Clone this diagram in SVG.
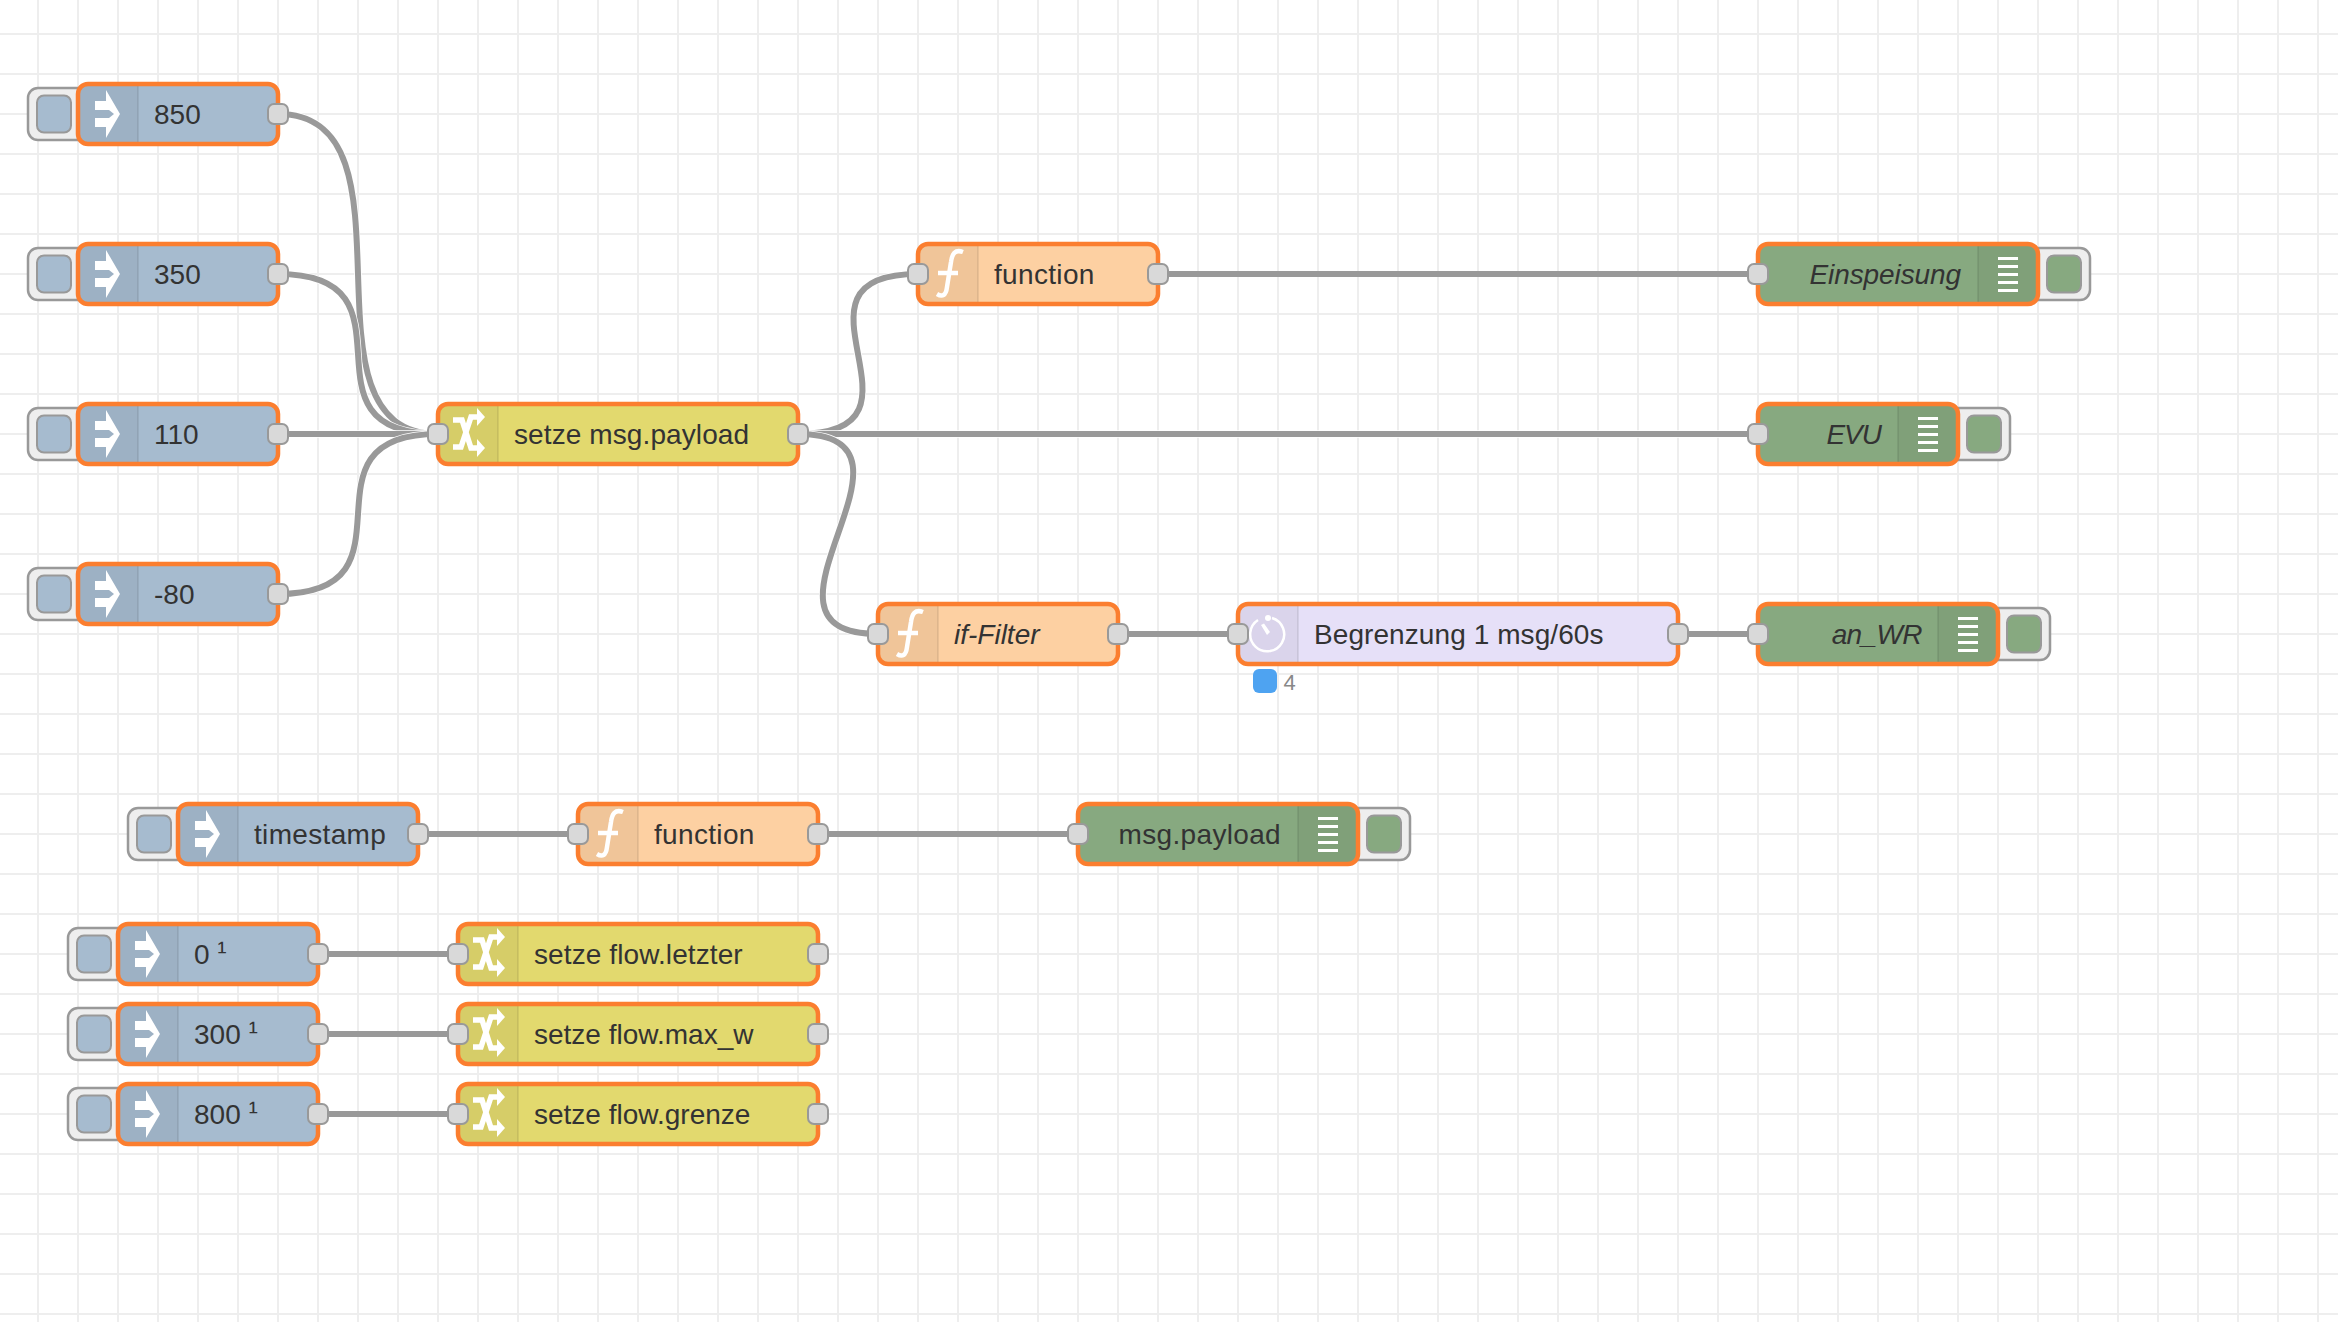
<svg xmlns="http://www.w3.org/2000/svg" xmlns:xlink="http://www.w3.org/1999/xlink" width="2338" height="1322" viewBox="0 0 2338 1322">
<style>
text{font-family:"Liberation Sans",Arial,sans-serif;font-size:28px;fill:#333}
.it{font-style:italic}
.end{text-anchor:end}
.sp{letter-spacing:.33px}
.body{stroke:none}
.border{fill:none;stroke:#fb7e2f;stroke-width:4.500}
.shade{fill:#000;fill-opacity:.05;stroke:none}
.sep{stroke:#000;stroke-opacity:.1;stroke-width:1.500;fill:none}
.port{fill:#d9d9d9;stroke:#999;stroke-width:2}
.btn{fill:#eee;stroke:#999;stroke-width:2.500}
.btni{stroke:#999;stroke-width:2}
.inj{fill:#a6bbcf}.fun{fill:#fdd0a2}.chg{fill:#e2d96e}.dly{fill:#e6e0f8}.dbg{fill:#87a980}
.o{fill:none;stroke:#fff;stroke-width:7.500}
.l{fill:none;stroke:#999;stroke-width:6}
.ic{fill:#fff;stroke:none}
.ics{fill:none;stroke:#fff;stroke-width:4.500}
</style>
<defs>
<pattern id="grid" patternUnits="userSpaceOnUse" x="18" y="14" width="40" height="40">
<path d="M20 0V40M0 20H40" fill="none" stroke="#eee" stroke-width="2"/>
</pattern>
<rect id="p" class="port" x="-10" y="-10" width="20" height="20" rx="6"/>
<polygon id="i-inj" class="ic" points="17,-13 28,-13 28,-24 42,0 28,24 28,13 17,13 17,4 31,4 36,0 31,-4 17,-4"/>
<g id="i-fun"><path class="ics" d="M45 -22C37 -25 34 -20 33 -12L29 13C28 22 24 23 19 20M20 -1H40"/></g>
<g id="i-chg"><path class="ics" style="stroke-width:5.500" d="M15 13H23L33 -17H41M15 -14H24L33 14H41"/><polygon class="ic" points="39,-26 47,-17 39,-8"/><polygon class="ic" points="39,5 47,14 39,23"/></g>
<g id="i-dly"><path class="ics" style="stroke-width:2.500" d="M34 -16A17 17 0 1 1 20 -14"/><circle class="ic" cx="30" cy="-16" r="3"/><polygon class="ic" points="23,-9 26,-10.500 32,-2 29,1"/></g>
<g id="i-dbg" class="ic"><rect x="20" y="-17" width="20" height="3"/><rect x="20" y="-9" width="20" height="3"/><rect x="20" y="-1" width="20" height="3"/><rect x="20" y="7" width="20" height="3"/><rect x="20" y="15" width="20" height="3"/></g>
<path id="s-l" class="shade" d="M60 -30H10A10 10 0 0 0 0 -20V20A10 10 0 0 0 10 30H60Z"/>
<path id="s-r" class="shade" d="M-60 -30H-10A10 10 0 0 1 0 -20V20A10 10 0 0 1 -10 30H-60Z"/>
<g id="b-l"><rect class="btn" x="-50" y="-26" width="60" height="52" rx="10"/></g>
<g id="b-r"><rect class="btn" x="-10" y="-26" width="62" height="52" rx="10"/></g>
</defs>
<rect width="2338" height="1322" fill="#fff"/>
<rect width="2338" height="1322" fill="url(#grid)"/>
<g id="connectors">
<path class="o" d="M278 114C428 114 288 434 438 434"/><path class="l" d="M278 114C428 114 288 434 438 434"/>
<path class="o" d="M278 274C428 274 288 434 438 434"/><path class="l" d="M278 274C428 274 288 434 438 434"/>
<path class="o" d="M278 434H438"/><path class="l" d="M278 434H438"/>
<path class="o" d="M278 594C428 594 288 434 438 434"/><path class="l" d="M278 594C428 594 288 434 438 434"/>
<path class="o" d="M798 434C948 434 768 274 918 274"/><path class="l" d="M798 434C948 434 768 274 918 274"/>
<path class="o" d="M798 434H1758"/><path class="l" d="M798 434H1758"/>
<path class="o" d="M798 434C948 434 728 634 878 634"/><path class="l" d="M798 434C948 434 728 634 878 634"/>
<path class="l" d="M1158 274H1758"/>
<path class="l" d="M1118 634H1238"/>
<path class="l" d="M1678 634H1758"/>
<path class="l" d="M418 834H578"/>
<path class="l" d="M818 834H1078"/>
<path class="l" d="M318 954H458"/>
<path class="l" d="M318 1034H458"/>
<path class="l" d="M318 1114H458"/>
</g>

<g id="inject-850" transform="translate(78 114)"><use href="#b-l"/><rect class="btni inj" x="-41" y="-18.500" width="34" height="37" rx="7"/><rect class="body inj" width="200" height="60" y="-30" rx="10"/><use href="#s-l"/><path class="sep" d="M60 -28V28"/><use href="#i-inj"/><text x="76" y="9.500">850</text><rect class="border" y="-30" width="200" height="60" rx="10"/><use href="#p" x="200"/></g>
<g id="inject-350" transform="translate(78 274)"><use href="#b-l"/><rect class="btni inj" x="-41" y="-18.500" width="34" height="37" rx="7"/><rect class="body inj" width="200" height="60" y="-30" rx="10"/><use href="#s-l"/><path class="sep" d="M60 -28V28"/><use href="#i-inj"/><text x="76" y="9.500">350</text><rect class="border" y="-30" width="200" height="60" rx="10"/><use href="#p" x="200"/></g>
<g id="inject-110" transform="translate(78 434)"><use href="#b-l"/><rect class="btni inj" x="-41" y="-18.500" width="34" height="37" rx="7"/><rect class="body inj" width="200" height="60" y="-30" rx="10"/><use href="#s-l"/><path class="sep" d="M60 -28V28"/><use href="#i-inj"/><text x="76" y="9.500">110</text><rect class="border" y="-30" width="200" height="60" rx="10"/><use href="#p" x="200"/></g>
<g id="inject-m80" transform="translate(78 594)"><use href="#b-l"/><rect class="btni inj" x="-41" y="-18.500" width="34" height="37" rx="7"/><rect class="body inj" width="200" height="60" y="-30" rx="10"/><use href="#s-l"/><path class="sep" d="M60 -28V28"/><use href="#i-inj"/><text x="76" y="9.500">-80</text><rect class="border" y="-30" width="200" height="60" rx="10"/><use href="#p" x="200"/></g>

<g id="change-payload" transform="translate(438 434)"><rect class="body chg" width="360" height="60" y="-30" rx="10"/><use href="#s-l"/><path class="sep" d="M60 -28V28"/><use href="#i-chg"/><text x="76" y="9.500" style="letter-spacing:.1px">setze msg.payload</text><rect class="border" y="-30" width="360" height="60" rx="10"/><use href="#p"/><use href="#p" x="360"/></g>

<g id="function-1" transform="translate(918 274)"><rect class="body fun" width="240" height="60" y="-30" rx="10"/><use href="#s-l"/><path class="sep" d="M60 -28V28"/><use href="#i-fun"/><text class="sp" x="76" y="9.500">function</text><rect class="border" y="-30" width="240" height="60" rx="10"/><use href="#p"/><use href="#p" x="240"/></g>

<g id="function-iffilter" transform="translate(878 634)"><rect class="body fun" width="240" height="60" y="-30" rx="10"/><use href="#s-l"/><path class="sep" d="M60 -28V28"/><use href="#i-fun"/><text class="it" x="76" y="9.500">if-Filter</text><rect class="border" y="-30" width="240" height="60" rx="10"/><use href="#p"/><use href="#p" x="240"/></g>

<g id="delay" transform="translate(1238 634)"><rect class="body dly" width="440" height="60" y="-30" rx="10"/><use href="#s-l"/><path class="sep" d="M60 -28V28"/><use href="#i-dly"/><text x="76" y="9.500" style="letter-spacing:.08px">Begrenzung 1 msg/60s</text><rect class="border" y="-30" width="440" height="60" rx="10"/><use href="#p"/><use href="#p" x="440"/><rect x="15" y="35" width="24" height="24" rx="6" fill="#4ea3f1"/><text x="45.500" y="56" style="font-size:22px;fill:#888">4</text></g>

<g id="debug-einspeisung" transform="translate(2038 274)"><use href="#b-r"/><rect class="btni dbg" x="9" y="-18.500" width="34" height="37" rx="7"/><rect class="body dbg" x="-280" width="280" height="60" y="-30" rx="10"/><use href="#s-r"/><path class="sep" d="M-60 -28V28"/><use href="#i-dbg" x="-60"/><text class="it end" x="-77" y="9.500" style="letter-spacing:-.1px">Einspeisung</text><rect class="border" x="-280" y="-30" width="280" height="60" rx="10"/><use href="#p" x="-280"/></g>

<g id="debug-evu" transform="translate(1958 434)"><use href="#b-r"/><rect class="btni dbg" x="9" y="-18.500" width="34" height="37" rx="7"/><rect class="body dbg" x="-200" width="200" height="60" y="-30" rx="10"/><use href="#s-r"/><path class="sep" d="M-60 -28V28"/><use href="#i-dbg" x="-60"/><text class="it end" x="-77" y="9.500" style="letter-spacing:-1px">EVU</text><rect class="border" x="-200" y="-30" width="200" height="60" rx="10"/><use href="#p" x="-200"/></g>

<g id="debug-anwr" transform="translate(1998 634)"><use href="#b-r"/><rect class="btni dbg" x="9" y="-18.500" width="34" height="37" rx="7"/><rect class="body dbg" x="-240" width="240" height="60" y="-30" rx="10"/><use href="#s-r"/><path class="sep" d="M-60 -28V28"/><use href="#i-dbg" x="-60"/><text class="it end" x="-76" y="9.500" style="letter-spacing:-.6px">an_WR</text><rect class="border" x="-240" y="-30" width="240" height="60" rx="10"/><use href="#p" x="-240"/></g>

<g id="inject-timestamp" transform="translate(178 834)"><use href="#b-l"/><rect class="btni inj" x="-41" y="-18.500" width="34" height="37" rx="7"/><rect class="body inj" width="240" height="60" y="-30" rx="10"/><use href="#s-l"/><path class="sep" d="M60 -28V28"/><use href="#i-inj"/><text class="sp" x="76" y="9.500">timestamp</text><rect class="border" y="-30" width="240" height="60" rx="10"/><use href="#p" x="240"/></g>

<g id="function-2" transform="translate(578 834)"><rect class="body fun" width="240" height="60" y="-30" rx="10"/><use href="#s-l"/><path class="sep" d="M60 -28V28"/><use href="#i-fun"/><text class="sp" x="76" y="9.500">function</text><rect class="border" y="-30" width="240" height="60" rx="10"/><use href="#p"/><use href="#p" x="240"/></g>

<g id="debug-payload" transform="translate(1358 834)"><use href="#b-r"/><rect class="btni dbg" x="9" y="-18.500" width="34" height="37" rx="7"/><rect class="body dbg" x="-280" width="280" height="60" y="-30" rx="10"/><use href="#s-r"/><path class="sep" d="M-60 -28V28"/><use href="#i-dbg" x="-60"/><text class="end sp" x="-77" y="9.500">msg.payload</text><rect class="border" x="-280" y="-30" width="280" height="60" rx="10"/><use href="#p" x="-280"/></g>

<g id="inject-0" transform="translate(118 954)"><use href="#b-l"/><rect class="btni inj" x="-41" y="-18.500" width="34" height="37" rx="7"/><rect class="body inj" width="200" height="60" y="-30" rx="10"/><use href="#s-l"/><path class="sep" d="M60 -28V28"/><use href="#i-inj"/><text x="76" y="9.500">0 <tspan dy="-3">¹</tspan></text><rect class="border" y="-30" width="200" height="60" rx="10"/><use href="#p" x="200"/></g>
<g id="inject-300" transform="translate(118 1034)"><use href="#b-l"/><rect class="btni inj" x="-41" y="-18.500" width="34" height="37" rx="7"/><rect class="body inj" width="200" height="60" y="-30" rx="10"/><use href="#s-l"/><path class="sep" d="M60 -28V28"/><use href="#i-inj"/><text x="76" y="9.500">300 <tspan dy="-3">¹</tspan></text><rect class="border" y="-30" width="200" height="60" rx="10"/><use href="#p" x="200"/></g>
<g id="inject-800" transform="translate(118 1114)"><use href="#b-l"/><rect class="btni inj" x="-41" y="-18.500" width="34" height="37" rx="7"/><rect class="body inj" width="200" height="60" y="-30" rx="10"/><use href="#s-l"/><path class="sep" d="M60 -28V28"/><use href="#i-inj"/><text x="76" y="9.500">800 <tspan dy="-3">¹</tspan></text><rect class="border" y="-30" width="200" height="60" rx="10"/><use href="#p" x="200"/></g>

<g id="change-letzter" transform="translate(458 954)"><rect class="body chg" width="360" height="60" y="-30" rx="10"/><use href="#s-l"/><path class="sep" d="M60 -28V28"/><use href="#i-chg"/><text x="76" y="9.500" style="letter-spacing:.1px">setze flow.letzter</text><rect class="border" y="-30" width="360" height="60" rx="10"/><use href="#p"/><use href="#p" x="360"/></g>
<g id="change-maxw" transform="translate(458 1034)"><rect class="body chg" width="360" height="60" y="-30" rx="10"/><use href="#s-l"/><path class="sep" d="M60 -28V28"/><use href="#i-chg"/><text x="76" y="9.500">setze flow.max_w</text><rect class="border" y="-30" width="360" height="60" rx="10"/><use href="#p"/><use href="#p" x="360"/></g>
<g id="change-grenze" transform="translate(458 1114)"><rect class="body chg" width="360" height="60" y="-30" rx="10"/><use href="#s-l"/><path class="sep" d="M60 -28V28"/><use href="#i-chg"/><text x="76" y="9.500">setze flow.grenze</text><rect class="border" y="-30" width="360" height="60" rx="10"/><use href="#p"/><use href="#p" x="360"/></g>
</svg>
